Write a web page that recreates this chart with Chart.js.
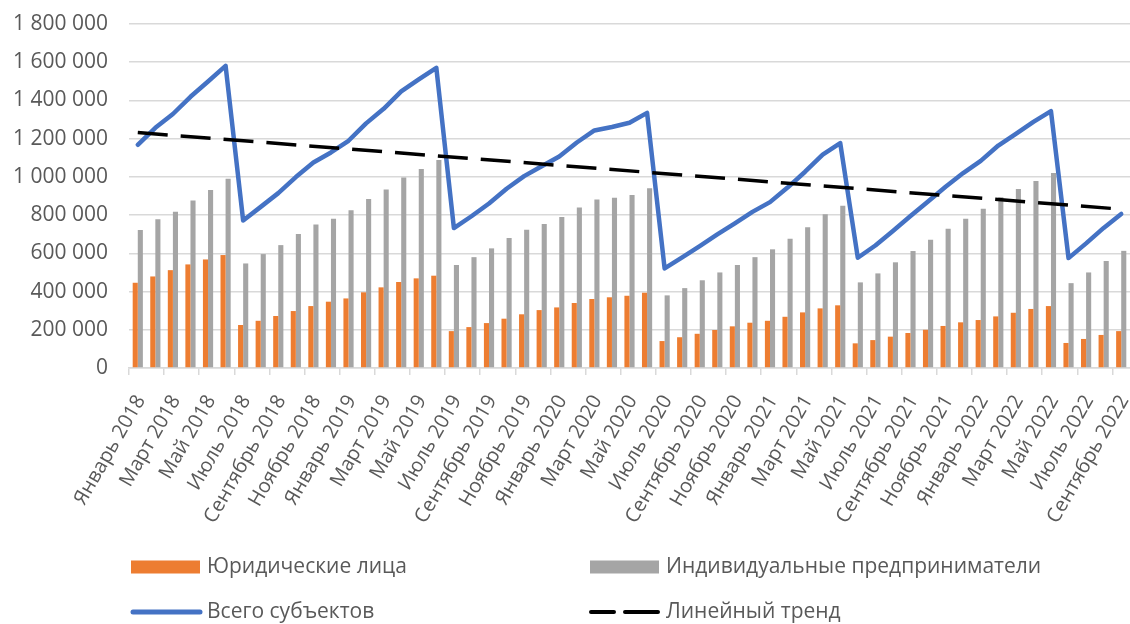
<!DOCTYPE html>
<html>
<head>
<meta charset="utf-8">
<script src="https://cdn.jsdelivr.net/npm/chart.js@4"></script>
<style>
  html, body { margin: 0; padding: 0; background: #fff; }
  #wrap { width: 1130px; height: 624px; }
</style>
</head>
<body>
<div id="wrap"><canvas id="subjectsChart"></canvas></div>
<script>
// Categories: months from Jan 2018 to Sep 2022
const monthNames = ["Январь", "Февраль", "Март", "Апрель", "Май", "Июнь",
  "Июль", "Август", "Сентябрь", "Октябрь", "Ноябрь", "Декабрь"];
const years = [2018, 2019, 2020, 2021, 2022];
const lastYearMonths = 9;

const labels = [];
years.forEach((y, yi) => {
  const count = yi === years.length - 1 ? lastYearMonths : 12;
  for (let m = 0; m < count; m++) labels.push(monthNames[m] + " " + y);
});

// Юридические лица
const legalEntities = [
  446000, 479000, 512000, 542000, 568000, 591000, 225000, 247000, 272000, 298000, 324000, 347000,
  364000, 396000, 422000, 450000, 469000, 483000, 193000, 214000, 235000, 258000, 281000, 303000,
  317000, 340000, 361000, 370000, 378000, 394000, 141000, 161000, 179000, 199000, 218000, 237000,
  247000, 268000, 291000, 312000, 328000, 129000, 146000, 164000, 183000, 200000, 220000, 239000,
  251000, 270000, 289000, 309000, 324000, 131000, 152000, 173000, 193000
];

// Индивидуальные предприниматели
const entrepreneurs = [
  722000, 778000, 817000, 877000, 931000, 990000, 547000, 596000, 643000, 701000, 751000, 781000,
  825000, 884000, 934000, 997000, 1041000, 1088000, 539000, 580000, 626000, 680000, 723000, 753000,
  790000, 840000, 882000, 891000, 905000, 941000, 380000, 418000, 459000, 500000, 539000, 580000,
  621000, 676000, 736000, 805000, 849000, 448000, 495000, 553000, 612000, 671000, 728000, 781000,
  833000, 894000, 936000, 979000, 1020000, 444000, 500000, 560000, 613000
];

// Всего субъектов
const totalSubjects = [
  1168000, 1257000, 1329000, 1419000, 1499000, 1581000, 772000, 843000, 915000, 999000, 1075000, 1128000,
  1189000, 1280000, 1356000, 1447000, 1510000, 1571000, 732000, 794000, 861000, 938000, 1004000, 1056000,
  1107000, 1180000, 1243000, 1261000, 1283000, 1335000, 521000, 579000, 638000, 699000, 757000, 817000,
  868000, 944000, 1027000, 1117000, 1177000, 577000, 641000, 717000, 795000, 871000, 948000, 1020000,
  1084000, 1164000, 1225000, 1288000, 1344000, 575000, 652000, 733000, 806000
];

// Линейный тренд: value at first and last month
const trendValues = [1232000, 831000];

// Y axis ticks
const yMin = 0;
const yMax = 1800000;
const yStep = 200000;

const textColor = "#595959";
const gridColor = "#d9d9d9";
Chart.defaults.font.family = '"Open Sans", sans-serif';
Chart.defaults.font.size = 21;
Chart.defaults.color = textColor;

function formatNumber(v) {
  return String(v).replace(/\B(?=(\d{3})+(?!\d))/g, " ");
}

// Legend drawn as a 2x2 grid under the axis labels
const gridLegend = {
  id: "gridLegend",
  afterDraw(chart) {
    const ctx = chart.ctx;
    const ds = chart.data.datasets;
    const items = [
      { d: ds[0], x: 131, tx: 207, y: 567, kind: "box" },
      { d: ds[1], x: 590, tx: 666, y: 567, kind: "box" },
      { d: ds[2], x: 131, tx: 207, y: 612, kind: "line" },
      { d: ds[3], x: 589, tx: 666, y: 612, kind: "dash" }
    ];
    ctx.save();
    ctx.font = '21px "Open Sans", sans-serif';
    ctx.textBaseline = "middle";
    items.forEach(it => {
      if (it.kind === "box") {
        ctx.fillStyle = it.d.backgroundColor;
        ctx.fillRect(it.x, it.y - 6.5, 69, 13);
      } else {
        ctx.strokeStyle = it.d.borderColor;
        ctx.lineWidth = it.kind === "dash" ? 4 : 5;
        ctx.lineCap = "round";
        ctx.setLineDash(it.kind === "dash" ? [23, 11, 40, 0] : []);
        ctx.beginPath();
        ctx.moveTo(it.x + 2, it.y);
        ctx.lineTo(it.x + 69, it.y);
        ctx.stroke();
        ctx.setLineDash([]);
      }
      ctx.fillStyle = textColor;
      ctx.fillText(it.d.label, it.tx, it.y);
    });
    ctx.restore();
  }
};

const ctx = document.getElementById("subjectsChart").getContext("2d");
const subjectsChart = new Chart(ctx, {
  data: {
    labels: labels,
    datasets: [
      {
        type: "bar",
        label: "Юридические лица",
        data: legalEntities,
        backgroundColor: "#ED7D31",
        barPercentage: 1.0,
        categoryPercentage: 0.58,
        order: 3
      },
      {
        type: "bar",
        label: "Индивидуальные предприниматели",
        data: entrepreneurs,
        backgroundColor: "#A5A5A5",
        barPercentage: 1.0,
        categoryPercentage: 0.58,
        order: 3
      },
      {
        type: "line",
        label: "Всего субъектов",
        data: totalSubjects,
        borderColor: "#4472C4",
        backgroundColor: "#4472C4",
        borderWidth: 4.5,
        borderJoinStyle: "round",
        borderCapStyle: "round",
        pointRadius: 0,
        tension: 0,
        order: 2
      },
      {
        type: "line",
        label: "Линейный тренд",
        data: [
          { x: labels[0], y: trendValues[0] },
          { x: labels[labels.length - 1], y: trendValues[1] }
        ],
        borderColor: "#000000",
        backgroundColor: "#000000",
        borderWidth: 3.5,
        borderDash: [30, 13],
        pointRadius: 0,
        order: 1
      }
    ]
  },
  options: {
    responsive: true,
    maintainAspectRatio: false,
    animation: false,
    layout: { padding: { top: 24, right: 0, bottom: 0, left: 0 } },
    plugins: {
      legend: { display: false },
      tooltip: { enabled: false }
    },
    scales: {
      x: {
        type: "category",
        offset: true,
        grid: {
          offset: true,
          drawOnChartArea: false,
          tickLength: 7,
          lineWidth: 1.5,
          color: c => (c.index % 2 === 0 ? gridColor : "rgba(0,0,0,0)")
        },
        border: { color: gridColor, width: 1.5 },
        ticks: {
          autoSkip: false,
          maxRotation: 60,
          minRotation: 60,
          padding: 16,
          labelOffset: 3,
          color: textColor,
          font: { size: 20 },
          callback: function (val, index) {
            return index % 2 === 0 ? this.getLabelForValue(val) : "";
          }
        },
        afterFit: scale => {
          scale.height = 256;
          scale.paddingLeft = 0;
          scale.paddingRight = 0;
        }
      },
      y: {
        min: yMin,
        max: yMax,
        grid: { color: gridColor, lineWidth: 1.5, drawTicks: false },
        border: { display: false },
        ticks: {
          stepSize: yStep,
          padding: 21,
          color: textColor,
          font: { size: 21 },
          callback: v => formatNumber(v)
        },
        afterFit: scale => {
          scale.width = 129;
          scale.paddingTop = 0;
          scale.paddingBottom = 0;
        }
      }
    }
  },
  plugins: [gridLegend]
});
</script>
</body>
</html>
